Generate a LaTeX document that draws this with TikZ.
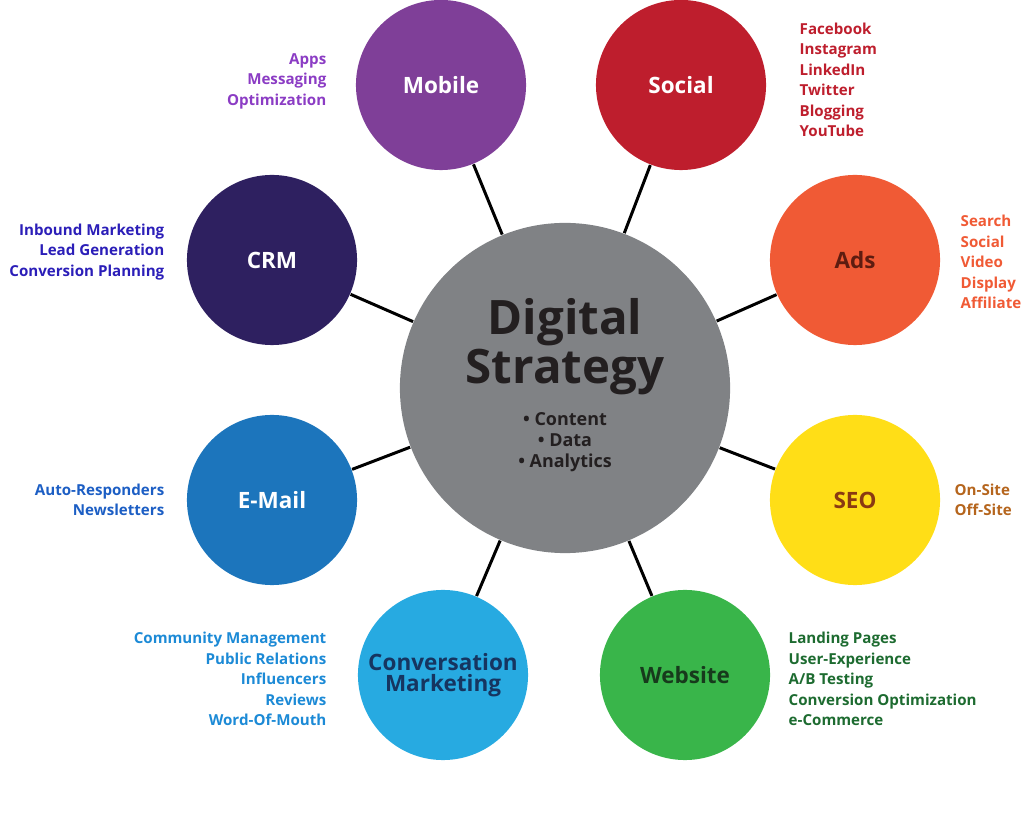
\documentclass[tikz,border=0pt]{standalone}
\usepackage{fontspec}
\setmainfont{Open Sans}
\begin{document}
\begin{tikzpicture}[x=0.01cm,y=-0.01cm,
  sat/.style={circle,minimum size=1.7cm,inner sep=0pt,font=\fontsize{6.4}{6.6}\selectfont\bfseries,align=center},
  lab/.style={font=\fontsize{4.3}{5.83}\selectfont\bfseries,inner sep=0pt},
  ttl/.style={font=\fontsize{6.4}{6.6}\selectfont\bfseries,align=center},
  link/.style={line width=0.85pt,black}]
\useasboundingbox (0,0) rectangle (1024,834);
\definecolor{cmob}{HTML}{7F3F98}\definecolor{csoc}{HTML}{BE1E2D}
\definecolor{cads}{HTML}{F05A35}\definecolor{cseo}{HTML}{FFDE17}
\definecolor{cweb}{HTML}{39B54A}\definecolor{ccon}{HTML}{27AAE1}
\definecolor{cmail}{HTML}{1C75BC}\definecolor{ccrm}{HTML}{2E2060}
\definecolor{cgrey}{HTML}{808285}\definecolor{tdark}{HTML}{231F20}
\node[circle,fill=cgrey,minimum size=3.3cm,inner sep=0pt] (c) at (565,388) {};
\node[sat,fill=cmob] (mob) at (441,85) {};
\node[sat,fill=csoc] (soc) at (681,85) {};
\node[sat,fill=cads] (ads) at (855,260) {};
\node[sat,fill=cseo] (seo) at (855,500) {};
\node[sat,fill=cweb] (web) at (685,675) {};
\node[sat,fill=ccon] (con) at (443,675) {};
\node[sat,fill=cmail] (mail) at (272,500) {};
\node[sat,fill=ccrm] (crm) at (272,260) {};
\definecolor{tads}{HTML}{5E1C10}\definecolor{tseo}{HTML}{8A3A12}
\definecolor{tweb}{HTML}{173A1C}\definecolor{tcon}{HTML}{163560}
\node[ttl,text=white] at (mob) {Mobile};
\node[ttl,text=white] at (soc) {Social};
\node[ttl,text=white] at (mail) {E-Mail};
\node[ttl,text=white] at (crm) {CRM};
\node[ttl,text=tads] at (ads) {Ads};
\node[ttl,text=tseo] at (seo) {SEO};
\node[ttl,text=tweb] at (web) {Website};
\node[ttl,font=\fontsize{6.4}{6.0}\selectfont\bfseries,text=tcon] at (con) {Conversation\\Marketing};
\foreach \n in {mob,soc,ads,seo,web,con,mail,crm} \draw[link] (c) -- (\n);
\node[font=\fontsize{13.5}{12.5}\selectfont\bfseries,text=tdark,align=center] (t) at (565,347) {Digital\\Strategy};
\node[font=\fontsize{5.1}{6}\selectfont\bfseries,text=tdark,align=center] (b) at (565,442) {• Content\\• Data\\• Analytics};
\definecolor{lmob}{HTML}{8B3CC4}\definecolor{lsoc}{HTML}{BE1E2D}
\definecolor{lads}{HTML}{F05A35}\definecolor{lseo}{HTML}{B5651D}
\definecolor{lweb}{HTML}{1D6B30}\definecolor{lcon}{HTML}{1C8AD6}
\definecolor{lmail}{HTML}{1C5EC4}\definecolor{lcrm}{HTML}{2B1EB8}
\node[lab,anchor=east,align=right,text=lmob] (lm) at (327,81) {Apps\\Messaging\\Optimization};
\node[lab,anchor=west,align=left,text=lsoc] (ls) at (799,80) {Facebook\\Instagram\\LinkedIn\\Twitter\\Blogging\\YouTube};
\node[lab,anchor=west,align=left,text=lads] (la) at (960,262) {Search\\Social\\Video\\Display\\Affiliate};
\node[lab,anchor=west,align=left,text=lseo] (lse) at (954,500) {On-Site\\Off-Site};
\node[lab,anchor=west,align=left,text=lweb] (lw) at (788,679) {Landing Pages\\User-Experience\\A/B Testing\\Conversion Optimization\\e-Commerce};
\node[lab,anchor=east,align=right,text=lcon] (lc) at (327,679) {Community Management\\Public Relations\\Influencers\\Reviews\\Word-Of-Mouth};
\node[lab,anchor=east,align=right,text=lmail] (le) at (165,500) {Auto-Responders\\Newsletters};
\node[lab,anchor=east,align=right,text=lcrm] (lcr) at (165,252) {Inbound Marketing\\Lead Generation\\Conversion Planning};
\end{tikzpicture}
\end{document}
